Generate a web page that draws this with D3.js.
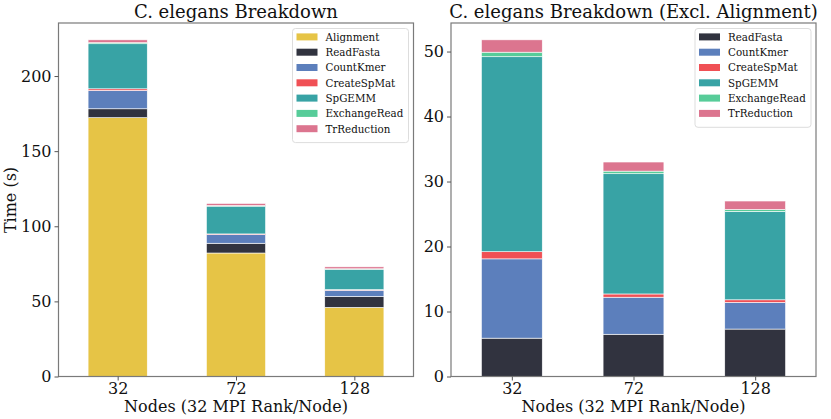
<!DOCTYPE html>
<html>
<head>
<meta charset="utf-8">
<script src="https://cdn.jsdelivr.net/npm/d3@7"></script>
<style>
  body { margin: 0; background: #fff; }
  text { font-family: "DejaVu Serif", serif; fill: #111; }
</style>
</head>
<body>
<div id="chart"></div>
<script>
// data
var nodes = ["32", "72", "128"];
var stages = ["Alignment", "ReadFasta", "CountKmer", "CreateSpMat", "SpGEMM", "ExchangeRead", "TrReduction"];
var stageColors = ["#e6c446", "#31333f", "#5c7fbc", "#f05055", "#38a3a5", "#57cc99", "#dc758f"];

var alignment    = [172.3, 82.2, 46.0];
var readFasta    = [5.9, 6.5, 7.3];
var countKmer    = [12.2, 5.7, 4.1];
var createSpMat  = [1.1, 0.5, 0.4];
var spgemm       = [30.0, 18.5, 13.6];
var exchangeRead = [0.7, 0.4, 0.3];
var trReduction  = [1.9, 1.4, 1.3];

var leftTicks = [0, 50, 100, 150, 200];
var rightTicks = [0, 10, 20, 30, 40, 50];

var W = 831, H = 419;
var svg = d3.select("#chart").append("svg")
  .attr("width", W).attr("height", H);

function rows(names) {
  var all = {
    Alignment: alignment, ReadFasta: readFasta, CountKmer: countKmer,
    CreateSpMat: createSpMat, SpGEMM: spgemm, ExchangeRead: exchangeRead,
    TrReduction: trReduction
  };
  return nodes.map(function(n, i) {
    var r = { node: n, idx: i };
    names.forEach(function(s) { r[s] = all[s][i]; });
    return r;
  });
}

function panel(opts) {
  var names = opts.stages;
  var data = rows(names);
  var stacked = d3.stack().keys(names)(data);
  var maxTotal = d3.max(stacked[stacked.length - 1], function(d) { return d[1]; });

  var x = d3.scaleLinear().domain([-0.5, 2.5]).range([opts.left, opts.right]);
  var y = d3.scaleLinear().domain([0, maxTotal * 1.05]).range([opts.bottom, opts.top]);
  var color = d3.scaleOrdinal().domain(stages).range(stageColors);

  var g = svg.append("g");

  // bars
  g.selectAll(".layer")
    .data(stacked)
    .enter().append("g")
    .attr("fill", function(d) { return color(d.key); })
    .selectAll("rect")
    .data(function(d) { return d; })
    .enter().append("rect")
    .attr("x", function(d) { return x(d.data.idx - 0.25); })
    .attr("width", x(0.25) - x(-0.25))
    .attr("y", function(d) { return y(d[1]); })
    .attr("height", function(d) { return y(d[0]) - y(d[1]); })
    .attr("stroke", "#fff")
    .attr("stroke-width", 0.6);

  // frame
  g.append("rect")
    .attr("x", opts.left).attr("y", opts.top)
    .attr("width", opts.right - opts.left).attr("height", opts.bottom - opts.top)
    .attr("fill", "none").attr("stroke", "#7a7a7a").attr("stroke-width", 1.2);

  // axes
  var yAxis = d3.axisLeft(y).tickValues(opts.ticks).tickSize(4).tickPadding(3);
  var ya = g.append("g").attr("transform", "translate(" + opts.left + ",0)").call(yAxis);
  ya.select(".domain").remove();
  ya.selectAll("line").attr("stroke", "#555");
  ya.selectAll("text").style("font-size", "16px").style("font-family", "DejaVu Serif").attr("fill", "#111");

  var xAxis = d3.axisBottom(x).tickValues([0, 1, 2])
    .tickFormat(function(d) { return nodes[d]; }).tickSize(4).tickPadding(2);
  var xa = g.append("g").attr("transform", "translate(0," + opts.bottom + ")").call(xAxis);
  xa.select(".domain").remove();
  xa.selectAll("line").attr("stroke", "#555");
  xa.selectAll("text").style("font-size", "16px").style("font-family", "DejaVu Serif").attr("fill", "#111");

  // title and x label
  g.append("text")
    .attr("x", (opts.left + opts.right) / 2).attr("y", 18)
    .attr("text-anchor", "middle")
    .style("font-size", "18px")
    .text(opts.title);

  g.append("text")
    .attr("x", (opts.left + opts.right) / 2).attr("y", 412)
    .attr("text-anchor", "middle")
    .style("font-size", "16px")
    .text("Nodes (32 MPI Rank/Node)");

  // legend
  var lg = g.append("g").attr("transform", "translate(" + opts.legX + "," + opts.legY + ")");
  lg.append("rect")
    .attr("width", opts.legW).attr("height", names.length * 15.3 + 7)
    .attr("rx", 3)
    .attr("fill", "#fff").attr("fill-opacity", 0.85)
    .attr("stroke", "#ddd");
  var item = lg.selectAll(".item")
    .data(names)
    .enter().append("g")
    .attr("transform", function(d, i) { return "translate(0," + (8.4 + i * 15.3) + ")"; });
  item.append("rect")
    .attr("x", 4).attr("y", -3.5).attr("width", 21).attr("height", 7)
    .attr("fill", function(d) { return color(d); });
  item.append("text")
    .attr("x", 33).attr("y", 3.8)
    .style("font-size", "10.3px")
    .attr("fill", "#222")
    .text(function(d) { return d; });

  return g;
}

panel({
  stages: stages, left: 58.5, right: 413.5, top: 23, bottom: 376.5,
  ticks: leftTicks, title: "C. elegans Breakdown",
  legX: 292.5, legY: 28.5, legW: 116
});

panel({
  stages: stages.slice(1), left: 451, right: 816, top: 23, bottom: 376.5,
  ticks: rightTicks, title: "C. elegans Breakdown (Excl. Alignment)",
  legX: 695, legY: 28.5, legW: 116
});

// y label
svg.append("text")
  .attr("transform", "translate(16,200) rotate(-90)")
  .attr("text-anchor", "middle")
  .style("font-size", "16px")
  .text("Time (s)");
</script>
</body>
</html>
